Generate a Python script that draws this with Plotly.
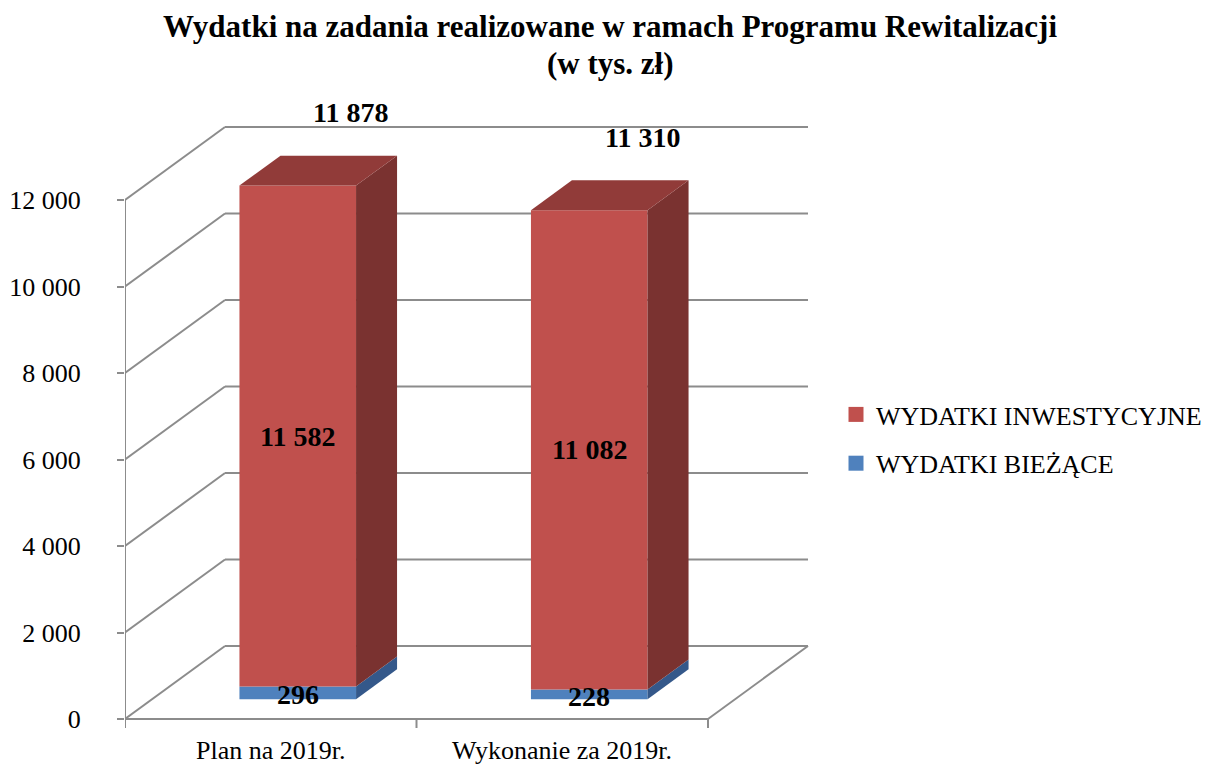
import plotly.graph_objects as go

# --- data -------------------------------------------------------------
categories = ["Plan na 2019r.", "Wykonanie za 2019r."]
wydatki_biezace = [296, 228]
wydatki_inwestycyjne = [11582, 11082]
tick_values = [0, 2000, 4000, 6000, 8000, 10000, 12000]
series_names = ["WYDATKI INWESTYCYJNE", "WYDATKI BIEŻĄCE"]
title_lines = ["Wydatki na zadania realizowane w ramach Programu Rewitalizacji",
               "(w tys. zł)"]

# --- geometry of the oblique 3D projection ----------------------------
W, H = 1220, 767
LEFT = 125                  # pixel position of the value axis
PX_PER_X = 291.5            # pixels per category unit
PX_PER_V = 519 / 12000      # pixels per value unit
DEPTH_X = 100 / PX_PER_X    # full depth, shift to the right (x units)
DEPTH_V = 73 / PX_PER_V     # full depth, shift upwards (value units)
BAR_W = 0.4
BAR_D0, BAR_D1 = 0.27, 0.68
N_CAT = len(categories)

GRID = "#8c8c8c"
RED_FRONT, RED_SIDE, RED_TOP = "#C0504D", "#7A3230", "#913B39"
BLUE_FRONT, BLUE_SIDE = "#4F81BD", "#34588A"
FONT = "Liberation Serif, Times New Roman, serif"


def proj(x, v, d):
    return x + d * DEPTH_X, v + d * DEPTH_V


def fmt(v):
    return f"{v:,}".replace(",", " ")


def px_to_paper_x(px):
    return (px - LEFT) / (W - LEFT)


fig = go.Figure()

# --- walls, floor and grid lines --------------------------------------
gx, gy = [], []


def seg(p, q):
    gx.extend([p[0], q[0], None])
    gy.extend([p[1], q[1], None])


for v in tick_values:
    seg(proj(0, v, 0), proj(0, v, 1))           # side wall
    seg(proj(0, v, 1), proj(N_CAT, v, 1))       # back wall
tick_len = 9 / PX_PER_V
seg((0, -tick_len), (0, tick_values[-1]))       # value axis line
seg(proj(0, 0, 0), proj(N_CAT, 0, 0))           # floor front edge
seg(proj(N_CAT, 0, 0), proj(N_CAT, 0, 1))       # floor right edge
for i in range(1, N_CAT + 1):
    seg((i, 0), (i, -tick_len))                 # category ticks

fig.add_trace(go.Scatter(x=gx, y=gy, mode="lines",
                         line=dict(color=GRID, width=2),
                         hoverinfo="skip", showlegend=False))


def face(pts, color):
    xs = [p[0] for p in pts] + [pts[0][0]]
    ys = [p[1] for p in pts] + [pts[0][1]]
    fig.add_trace(go.Scatter(x=xs, y=ys, mode="lines", fill="toself",
                             fillcolor=color, line=dict(width=0, color=color),
                             hoverinfo="skip", showlegend=False))


def box(xc, v0, v1, front, side, top=None):
    xl, xr = xc - BAR_W / 2, xc + BAR_W / 2
    face([proj(xl, v0, BAR_D0), proj(xr, v0, BAR_D0),
          proj(xr, v1, BAR_D0), proj(xl, v1, BAR_D0)], front)
    face([proj(xr, v0, BAR_D0), proj(xr, v0, BAR_D1),
          proj(xr, v1, BAR_D1), proj(xr, v1, BAR_D0)], side)
    if top:
        face([proj(xl, v1, BAR_D0), proj(xr, v1, BAR_D0),
              proj(xr, v1, BAR_D1), proj(xl, v1, BAR_D1)], top)


label_font = dict(family=FONT, size=28, color="black")
for i, cat in enumerate(categories):
    xc = i + 0.5
    b = wydatki_biezace[i]
    r = wydatki_inwestycyjne[i]
    total = b + r
    box(xc, 0, b, BLUE_FRONT, BLUE_SIDE)
    box(xc, b, total, RED_FRONT, RED_SIDE, RED_TOP)

    fx, fy = proj(xc, b / 2, BAR_D0)
    fig.add_annotation(x=fx, y=fy, text=f"<b>{fmt(b)}</b>", showarrow=False,
                       font=label_font, yshift=-2)
    fx, fy = proj(xc, b + r / 2, BAR_D0)
    fig.add_annotation(x=fx, y=fy, text=f"<b>{fmt(r)}</b>", showarrow=False,
                       font=label_font)
    tx, ty = proj(xc, total, 0.8)
    fig.add_annotation(x=tx, y=ty, text=f"<b>{fmt(total)}</b>", showarrow=False,
                       font=label_font, yshift=34)
    fig.add_annotation(x=xc, y=0, text=cat, showarrow=False,
                       font=dict(family=FONT, size=26, color="black"),
                       yshift=-31)

# --- title ------------------------------------------------------------
for line, ypx in zip(title_lines, [26, 63]):
    fig.add_annotation(x=px_to_paper_x(W / 2), xref="paper",
                       y=1 - ypx / H, yref="paper",
                       text=f"<b>{line}</b>", showarrow=False,
                       xanchor="center", yanchor="middle",
                       font=dict(family=FONT, size=31, color="black"))

# --- legend entries ---------------------------------------------------
for name, color, grp in [(series_names[0], RED_FRONT, "a"),
                         (series_names[1], BLUE_FRONT, "b")]:
    fig.add_trace(go.Scatter(x=[None], y=[None], mode="markers", name=name,
                             legendgroup=grp,
                             marker=dict(symbol="square", size=15, color=color)))

fig.update_layout(
    width=W, height=H,
    margin=dict(l=LEFT, r=0, t=0, b=0, autoexpand=False),
    paper_bgcolor="white", plot_bgcolor="white",
    xaxis=dict(range=[0, (W - LEFT) / PX_PER_X], visible=False,
               fixedrange=True),
    yaxis=dict(range=[-(H - 719) / PX_PER_V, 719 / PX_PER_V],
               showgrid=False, zeroline=False, showline=False,
               tickmode="array", tickvals=tick_values,
               ticktext=[fmt(v) for v in tick_values],
               ticks="outside", ticklen=7, tickwidth=2, tickcolor=GRID,
               ticklabelstandoff=31,
               tickfont=dict(family=FONT, size=26, color="black"),
               fixedrange=True),
    legend=dict(x=px_to_paper_x(836), xref="paper", xanchor="left",
                y=1 - 391 / H, yref="paper", yanchor="top",
                font=dict(family=FONT, size=26, color="black"),
                tracegroupgap=12, bgcolor="rgba(0,0,0,0)",
                itemsizing="trace"),
    showlegend=True,
)

fig.write_html("out.html")
